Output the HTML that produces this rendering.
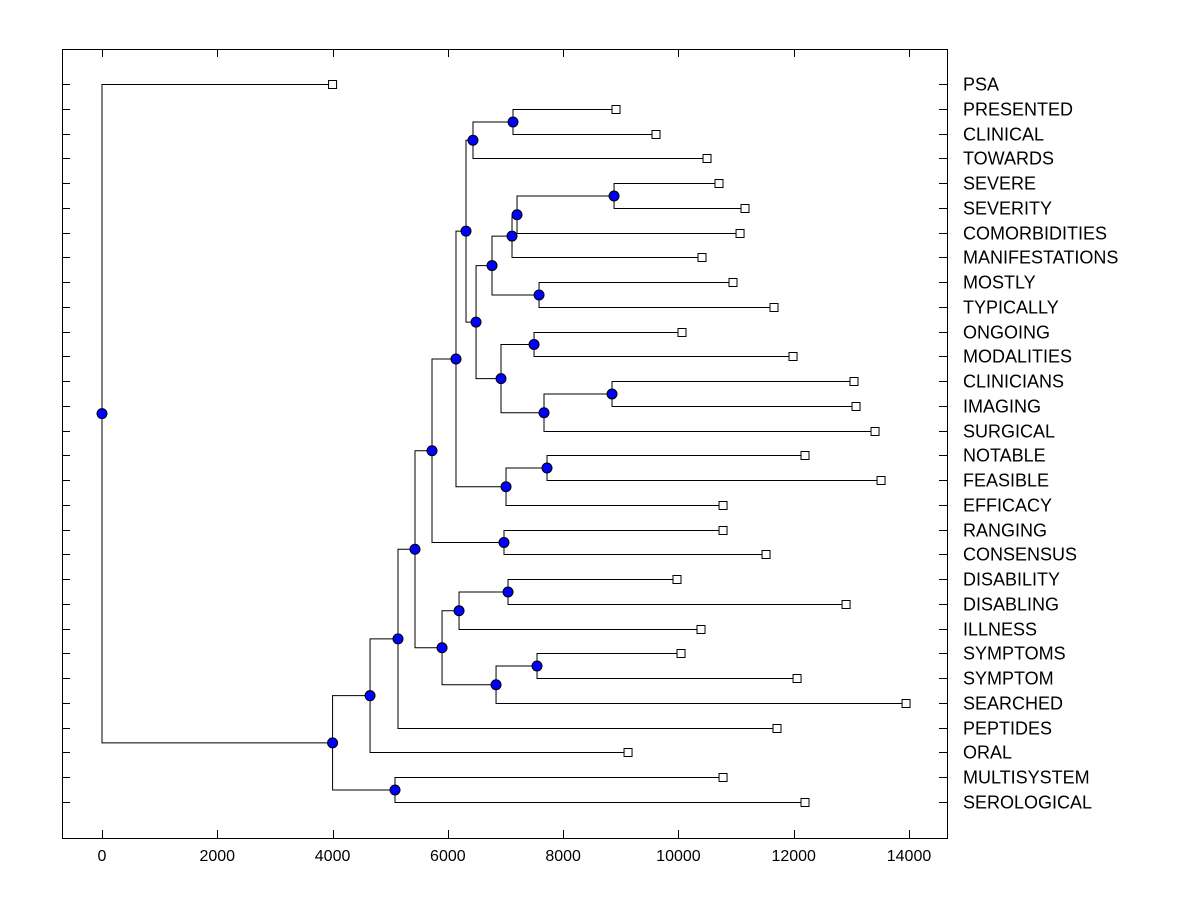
<!DOCTYPE html>
<html><head><meta charset="utf-8"><style>
html,body{margin:0;padding:0;background:#fff;}
svg text{font-family:"Liberation Sans",Arial,sans-serif;font-size:16px;fill:#000;}
svg text.leaf{font-size:18px;}
</style></head><body>
<svg id="chart" width="1200" height="900" xmlns="http://www.w3.org/2000/svg"></svg>
<script>
const leafLabels=["PSA","PRESENTED","CLINICAL","TOWARDS","SEVERE","SEVERITY","COMORBIDITIES","MANIFESTATIONS","MOSTLY","TYPICALLY","ONGOING","MODALITIES","CLINICIANS","IMAGING","SURGICAL","NOTABLE","FEASIBLE","EFFICACY","RANGING","CONSENSUS","DISABILITY","DISABLING","ILLNESS","SYMPTOMS","SYMPTOM","SEARCHED","PEPTIDES","ORAL","MULTISYSTEM","SEROLOGICAL"];
const leafValues=[4000,8917,9611,10496,10704,11155,11069,10409,10947,11658,10062,11988,13046,13081,13411,12196,13515,10774,10774,11520,9975,12908,10392,10045,12058,13949,11710,9126,10774,12196];
// internal nodes: [name, height, childA, childB]  (children: leaf label or node name)
const nodeNames=["O","U","T","R","S","P","V","X","W","Q","N","M","J","L","K","H","I","F","AA","Y","AB","Z","G","E","D","B","C","A","ROOT"];
const nodeHeights=[7130,8883,7200,7113,7582,6766,7495,8848,7668,6922,6489,6436,6315,7720,7009,6141,6974,5725,7044,6194,7547,6836,5899,5430,5135,4650,5083,4000,0];
const nodeChildA=["PRESENTED","SEVERE","U","T","MOSTLY","R","ONGOING","CLINICIANS","X","V","P","O","M","NOTABLE","L","J","RANGING","H","DISABILITY","AA","SYMPTOMS","AB","Y","F","E","D","MULTISYSTEM","B","PSA"];
const nodeChildB=["CLINICAL","SEVERITY","COMORBIDITIES","MANIFESTATIONS","TYPICALLY","S","MODALITIES","IMAGING","SURGICAL","W","Q","TOWARDS","N","FEASIBLE","EFFICACY","K","CONSENSUS","I","DISABLING","ILLNESS","SYMPTOM","SEARCHED","Z","G","PEPTIDES","ORAL","SEROLOGICAL","C","A"];
const xTicks=[0,2000,4000,6000,8000,10000,12000,14000];

const svg=document.getElementById('chart');const NS='http://www.w3.org/2000/svg';
const L=62,R=947,T=49,B=838;
const xs=v=>102+v*(909-102)/14000;
const ys=i=>84+i*(802-84)/29;
function mk(tag,attrs,parent){const e=document.createElementNS(NS,tag);for(const k in attrs)e.setAttribute(k,attrs[k]);(parent||svg).appendChild(e);return e;}
const frame=mk('rect',{x:L+0.5,y:T+0.5,width:R-L,height:B-T,fill:'none',stroke:'#000','stroke-width':1});


xTicks.forEach(t=>{const x=Math.round(xs(t))+0.5;
 const a=mk('line',{x1:x,x2:x,y1:B,y2:B-8,stroke:'#000'});
 const b=mk('line',{x1:x,x2:x,y1:T,y2:T+8,stroke:'#000'});
 const tx=mk('text',{x:xs(t),y:861,'text-anchor':'middle'});tx.textContent=t;
 
});
const pos={};
leafLabels.forEach((lab,i)=>{const y=Math.round(ys(i))+0.5;pos[lab]={x:xs(leafValues[i]),y:y};
 const a=mk('line',{x1:L,x2:L+8,y1:y,y2:y,stroke:'#000'});
 const b=mk('line',{x1:R-8,x2:R,y1:y,y2:y,stroke:'#000'});
 const tx=mk('text',{x:963,y:y+6,'class':'leaf'});tx.textContent=lab;
 
});
const g=mk('g',{});


const dots=[];
nodeNames.forEach((n,i)=>{const a=pos[nodeChildA[i]],b=pos[nodeChildB[i]];const x=xs(nodeHeights[i]);const y=(a.y+b.y)/2;pos[n]={x:x,y:y};
 const p=mk('path',{d:`M${a.x},${a.y}H${x}V${b.y}H${b.x}`,fill:'none',stroke:'#000','stroke-width':1},g);
 
 dots.push([n,x,y]);
});
leafLabels.forEach((lab,i)=>{const p=pos[lab];
 const r=mk('rect',{x:p.x-4,y:p.y-4,width:8,height:8,fill:'#fff',stroke:'#000'});
 
});
dots.forEach(([n,x,y])=>{const c=mk('circle',{cx:x,cy:y,r:5,fill:'#0000ff',stroke:'#000','stroke-width':1});
 
});
</script>
</body></html>
